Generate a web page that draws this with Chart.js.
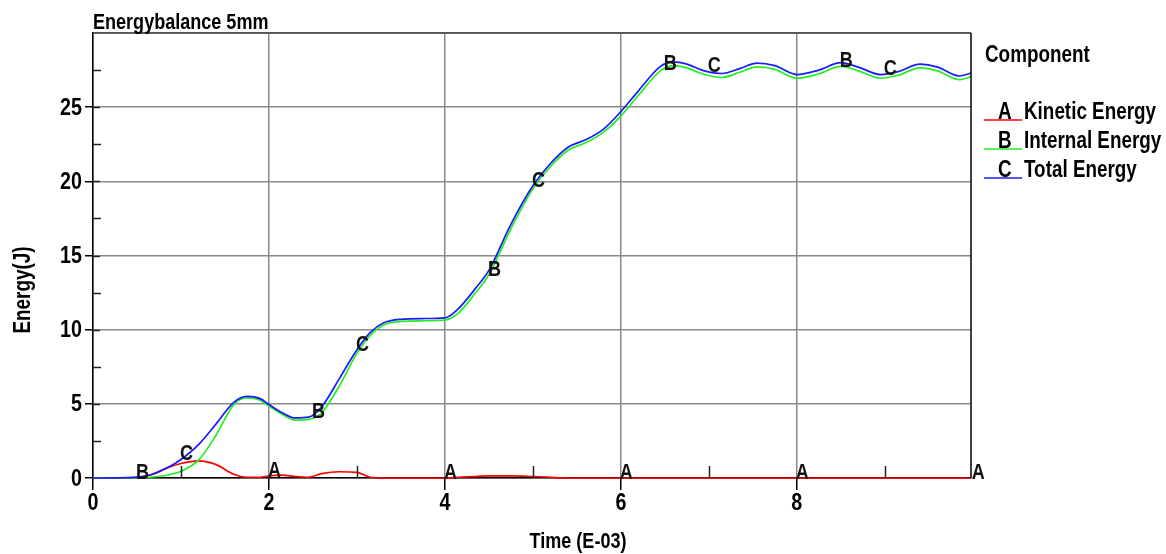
<!DOCTYPE html>
<html>
<head>
<meta charset="utf-8">
<script src="https://cdn.jsdelivr.net/npm/chart.js@4/dist/chart.umd.min.js"></script>
<style>
  html, body { margin: 0; padding: 0; background: #fff; }
  #wrap { width: 1166px; height: 554px; }
</style>
</head>
<body>
<div id="wrap"><canvas id="c" width="1166" height="554"></canvas></div>
<script>
// ---- data (Time in E-03, Energy in J) ----
const time = [0, 0.4, 0.65, 0.85, 1.0, 1.2, 1.4, 1.6, 1.75, 1.9, 2.0, 2.15, 2.3, 2.45, 2.6, 2.8, 3.0, 3.15, 3.3, 3.5, 3.75, 4.0, 4.15, 4.35, 4.5, 4.75, 5.0, 5.2, 5.4, 5.6, 5.8, 6.0, 6.2, 6.45, 6.6, 6.75, 6.95, 7.15, 7.35, 7.55, 7.75, 8.0, 8.25, 8.5, 8.7, 8.95, 9.15, 9.4, 9.6, 9.85, 9.98];
const kineticEnergy = [0, 0, 0.2, 0.7, 0.98, 1.15, 0.9, 0.25, 0.05, 0.05, 0.15, 0.2, 0.1, 0.05, 0.3, 0.42, 0.38, 0.05, 0, 0, 0, 0, 0.05, 0.1, 0.15, 0.15, 0.1, 0.05, 0, 0, 0, 0, 0, 0, 0, 0, 0, 0, 0, 0, 0, 0, 0, 0, 0, 0, 0, 0, 0, 0, 0];
const internalEnergy = [0, 0, 0.05, 0.2, 0.45, 1.2, 2.9, 4.95, 5.4, 5.25, 4.85, 4.3, 3.9, 3.95, 4.4, 6.2, 8.4, 9.6, 10.3, 10.55, 10.6, 10.65, 11.1, 12.5, 13.7, 16.8, 19.5, 21.0, 22.1, 22.6, 23.3, 24.4, 25.8, 27.45, 27.8, 27.65, 27.2, 27.0, 27.35, 27.72, 27.55, 26.95, 27.25, 27.75, 27.45, 26.95, 27.15, 27.65, 27.45, 26.85, 27.05];
const totalEnergy = [0, 0.02, 0.2, 0.7, 1.25, 2.25, 3.65, 5.1, 5.5, 5.35, 4.95, 4.4, 4.05, 4.1, 4.8, 6.7, 8.65, 9.8, 10.45, 10.7, 10.75, 10.8, 11.4, 12.8, 14.0, 17.1, 19.7, 21.2, 22.3, 22.8, 23.5, 24.7, 26.1, 27.75, 28.05, 27.9, 27.45, 27.27, 27.6, 27.97, 27.8, 27.2, 27.5, 28.0, 27.7, 27.2, 27.4, 27.9, 27.7, 27.1, 27.3];

const seriesNames = ['Kinetic Energy', 'Internal Energy', 'Total Energy'];
const seriesLetters = ['A', 'B', 'C'];
const seriesColors = ['#ff0000', '#22ee22', '#1a1aff'];
const markerTimesA = [2, 4, 6, 8, 10];
const markerTimesB = [0.5, 2.5, 4.5, 6.5, 8.5];
const markerTimesC = [1, 3, 5, 7, 9];

const chartTitle = 'Energybalance 5mm';
const legendTitle = 'Component';
const xTitle = 'Time (E-03)';
const yTitle = 'Energy(J)';

const FONT = '"Liberation Sans", Arial, sans-serif';
const SQUEEZE = 0.82;

function pts(vals) { return time.map((t, i) => ({ x: t, y: vals[i] })); }
function interp(vals, t) {
  if (t <= time[0]) return vals[0];
  for (let i = 1; i < time.length; i++) {
    if (t <= time[i]) {
      const f = (t - time[i - 1]) / (time[i] - time[i - 1]);
      return vals[i - 1] + f * (vals[i] - vals[i - 1]);
    }
  }
  return vals[vals.length - 1];
}

const allSeries = [kineticEnergy, internalEnergy, totalEnergy];
const markerTimes = [markerTimesA, markerTimesB, markerTimesC];

function txt(ctx, s, x, y, size, align, baseline, rot) {
  ctx.save();
  ctx.translate(x, y);
  if (rot) ctx.rotate(rot);
  ctx.scale(SQUEEZE, 1);
  ctx.font = 'bold ' + size + 'px ' + FONT;
  ctx.textAlign = align || 'left';
  ctx.textBaseline = baseline || 'alphabetic';
  ctx.fillText(s, 0, 0);
  ctx.restore();
}

const overlay = {
  id: 'overlay',
  afterDraw(chart) {
    const { ctx, chartArea: a, scales: { x, y } } = chart;
    ctx.save();
    // frame: top and right
    ctx.lineWidth = 1.5;
    ctx.strokeStyle = '#444';
    ctx.beginPath(); ctx.moveTo(a.left, a.top); ctx.lineTo(a.right, a.top); ctx.stroke();
    ctx.strokeStyle = '#000';
    ctx.beginPath(); ctx.moveTo(a.right, a.top); ctx.lineTo(a.right, a.bottom); ctx.stroke();

    // minor ticks (inside)
    ctx.strokeStyle = '#222';
    ctx.lineWidth = 1.5;
    for (let v = 2.5; v < 30; v += 5) {
      const py = Math.round(y.getPixelForValue(v)) + 0.5;
      ctx.beginPath(); ctx.moveTo(a.left, py); ctx.lineTo(a.left + 8, py); ctx.stroke();
    }
    for (let v = 5; v < 30; v += 5) {
      const py = Math.round(y.getPixelForValue(v)) + 0.5;
      ctx.beginPath(); ctx.moveTo(a.left, py); ctx.lineTo(a.left + 7, py); ctx.stroke();
    }
    for (let v = 1; v < 10; v += 2) {
      const px = Math.round(x.getPixelForValue(v)) + 0.5;
      ctx.beginPath(); ctx.moveTo(px, a.bottom); ctx.lineTo(px, a.bottom - 12); ctx.stroke();
    }

    // tick labels from the scales
    ctx.fillStyle = '#000';
    y.ticks.forEach(t => {
      if (t.value >= 30) return;
      txt(ctx, String(t.value), a.left - 11, y.getPixelForValue(t.value) + 1, 24, 'right', 'middle');
    });
    x.ticks.forEach(t => {
      txt(ctx, String(t.value), x.getPixelForValue(t.value), a.bottom + 13, 24, 'center', 'top');
    });

    // curve letters
    ctx.fillStyle = '#111';
    markerTimes.forEach((arr, s) => {
      arr.forEach(t => {
        const px = x.getPixelForValue(t);
        const py = y.getPixelForValue(interp(allSeries[s], t));
        txt(ctx, seriesLetters[s], px - 1, py + 1, 22, 'left', 'alphabetic');
      });
    });

    // chart title
    ctx.fillStyle = '#000';
    txt(ctx, chartTitle, a.left, 29, 22, 'left');

    // legend
    txt(ctx, legendTitle, 985, 62, 23, 'left');
    const rowY = [119, 148, 177];
    seriesNames.forEach((n, i) => {
      ctx.strokeStyle = seriesColors[i];
      ctx.lineWidth = 1.6;
      ctx.beginPath(); ctx.moveTo(984, rowY[i] + 1); ctx.lineTo(1022, rowY[i] + 1); ctx.stroke();
      ctx.fillStyle = '#000';
      txt(ctx, seriesLetters[i], 998, rowY[i], 23, 'left');
      txt(ctx, n, 1024, rowY[i], 23, 'left');
    });

    // axis titles
    txt(ctx, xTitle, 578, 548, 22, 'center');
    txt(ctx, yTitle, 30, 290, 23, 'center', 'alphabetic', -Math.PI / 2);

    ctx.restore();
  }
};

new Chart(document.getElementById('c'), {
  type: 'line',
  data: {
    datasets: [0, 1, 2].map(i => ({
      label: seriesNames[i],
      data: pts(allSeries[i]),
      borderColor: seriesColors[i],
      borderWidth: 1.7,
      pointRadius: 0,
      fill: false,
      clip: false,
      order: 3 - i,
      cubicInterpolationMode: 'monotone'
    }))
  },
  options: {
    responsive: false,
    animation: false,
    devicePixelRatio: 1,
    layout: { padding: { top: 33, right: 195, left: 0, bottom: 0 } },
    plugins: { legend: { display: false }, title: { display: false }, tooltip: { enabled: false } },
    scales: {
      x: {
        type: 'linear', min: 0, max: 9.98,
        ticks: { display: false, stepSize: 2, includeBounds: false },
        grid: { color: '#8a8a8a', lineWidth: 1.5, tickLength: 12, tickColor: '#000', tickWidth: 1.5 },
        border: { color: '#000', width: 1.5 },
        afterFit(s) { s.height = 76; }
      },
      y: {
        min: 0, max: 30,
        ticks: { display: false, stepSize: 5 },
        grid: { color: '#8a8a8a', lineWidth: 1.5, tickLength: 8, tickWidth: 1.5,
                tickColor: c => (c.tick && c.tick.value >= 30 ? 'rgba(0,0,0,0)' : '#000') },
        border: { color: '#000', width: 1.5 },
        afterFit(s) { s.width = 93; }
      }
    }
  },
  plugins: [overlay]
});
</script>
</body>
</html>
